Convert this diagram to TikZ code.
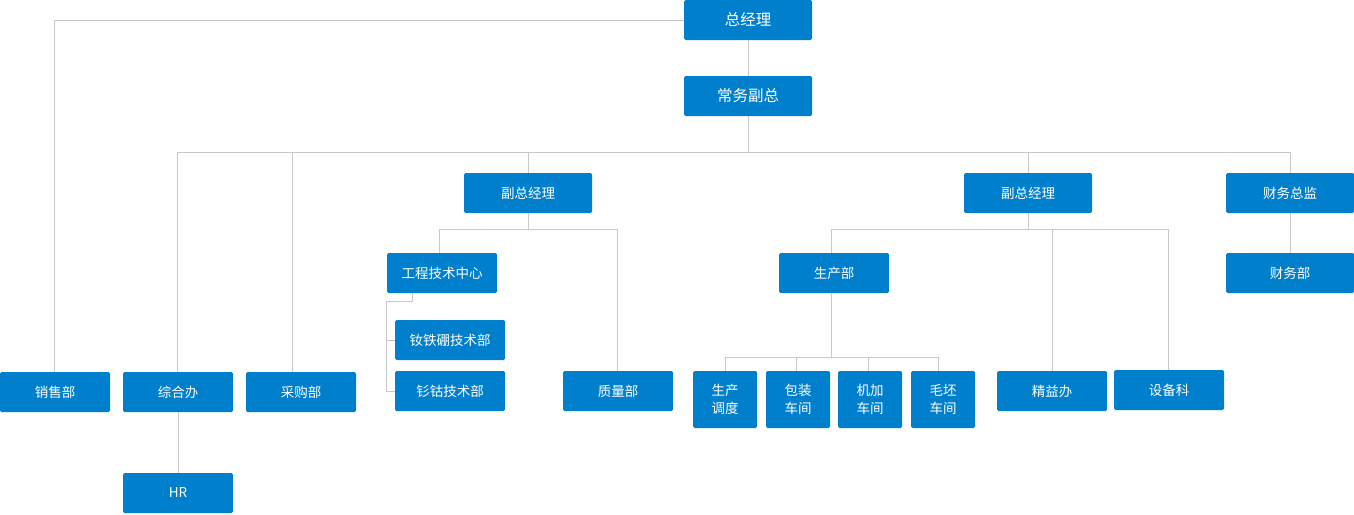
\documentclass[tikz,border=0pt]{standalone}
\usepackage{fontspec}
\setmainfont{Noto Sans CJK SC}
\usepackage{tikz}
\definecolor{orgblue}{RGB}{0,128,204}
\definecolor{linkgray}{RGB}{200,200,200}
\tikzset{
  unit/.style={fill=orgblue,text=white,rounded corners=1.5pt,inner sep=0pt,
    minimum width=110pt,minimum height=40pt,font=\fontsize{13.5}{16}\selectfont},
  head/.style={unit,minimum width=128pt},
  top/.style={head,font=\fontsize{15.5}{18}\selectfont},
  shop/.style={unit,minimum width=64pt,minimum height=57pt,align=center,
    font=\fontsize{13.5}{18}\selectfont},
  link/.style={draw=linkgray,line width=1pt}
}

\begin{document}
\begin{tikzpicture}[x=1pt,y=-1pt]
                \useasboundingbox (0,0) rectangle (1354,514);
                \node[top] (gm) at (748,20) {总经理};
                \node[top] (evp) at (748,96) {常务副总};
                \node[head] (vpl) at (528,193) {副总经理};
                \node[head] (vpr) at (1028,193) {副总经理};
                \node[head] (cfo) at (1290,193) {财务总监};
                \node[head] (fin) at (1290,273) {财务部};
                \node[unit] (eng) at (442,273) {工程技术中心};
                \node[unit] (ndfe) at (450,340) {钕铁硼技术部};
                \node[unit] (smco) at (450,391) {钐钴技术部};
                \node[unit] (prod) at (834,273) {生产部};
                \node[unit] (sales) at (55,392) {销售部};
                \node[unit] (admin) at (178,392) {综合办};
                \node[unit] (buy) at (301,392) {采购部};
                \node[unit] (hr) at (178,493) {HR};
                \node[unit] (qa) at (618,391) {质量部};
                \node[shop] (plan) at (725,399.5) {生产\\调度};
                \node[shop] (pack) at (798,399.5) {包装\\车间};
                \node[shop] (mach) at (870,399.5) {机加\\车间};
                \node[shop] (blank) at (943,399.5) {毛坯\\车间};
                \node[unit] (lean) at (1052,391) {精益办};
                \node[unit] (equip) at (1169,390) {设备科};
                % top
                \draw[link] (gm.west) -| ([xshift=-1pt]sales.north);
                \draw[link] (gm) -- (evp);
                \draw[link] (evp.south) -- ++(0,36) coordinate (busa);
                \draw[link] (busa) -| ([xshift=-1pt]admin.north);
                \draw[link] (busa) -| ([xshift=-9pt]buy.north);
                \draw[link] (busa) -| (vpl.north);
                \draw[link] (busa) -| (vpr.north);
                \draw[link] (busa) -| (cfo.north);
                \draw[link] (cfo) -- (fin);
                \draw[link] (admin) -- (hr);
                % left vp
                \draw[link] (vpl.south) -- ++(0,16) coordinate (busb);
                \draw[link] (busb) -| ([xshift=-3pt]eng.north);
                \draw[link] (busb) -| ([xshift=-1pt]qa.north);
                \draw[link] ([xshift=-30pt]eng.south) -- ++(0,8) -| ([xshift=-8pt]smco.west) -- (smco.west);
                \draw[link] ([xshift=-8pt]ndfe.west) -- (ndfe.west);
                % right vp
                \draw[link] (vpr.south) -- ++(0,16) coordinate (busc);
                \draw[link] (busc) -| ([xshift=-3pt]prod.north);
                \draw[link] (busc) -| (lean.north);
                \draw[link] (busc) -| ([xshift=-1pt]equip.north);
                \draw[link] ([xshift=-3pt]prod.south) -- ++(0,64) coordinate (busd);
                \draw[link] (busd) -| (plan.north);
                \draw[link] (busd) -| ([xshift=-2pt]pack.north);
                \draw[link] (busd) -| ([xshift=-2pt]mach.north);
                \draw[link] (busd) -| ([xshift=-5pt]blank.north);
            \end{tikzpicture}
\end{document}
